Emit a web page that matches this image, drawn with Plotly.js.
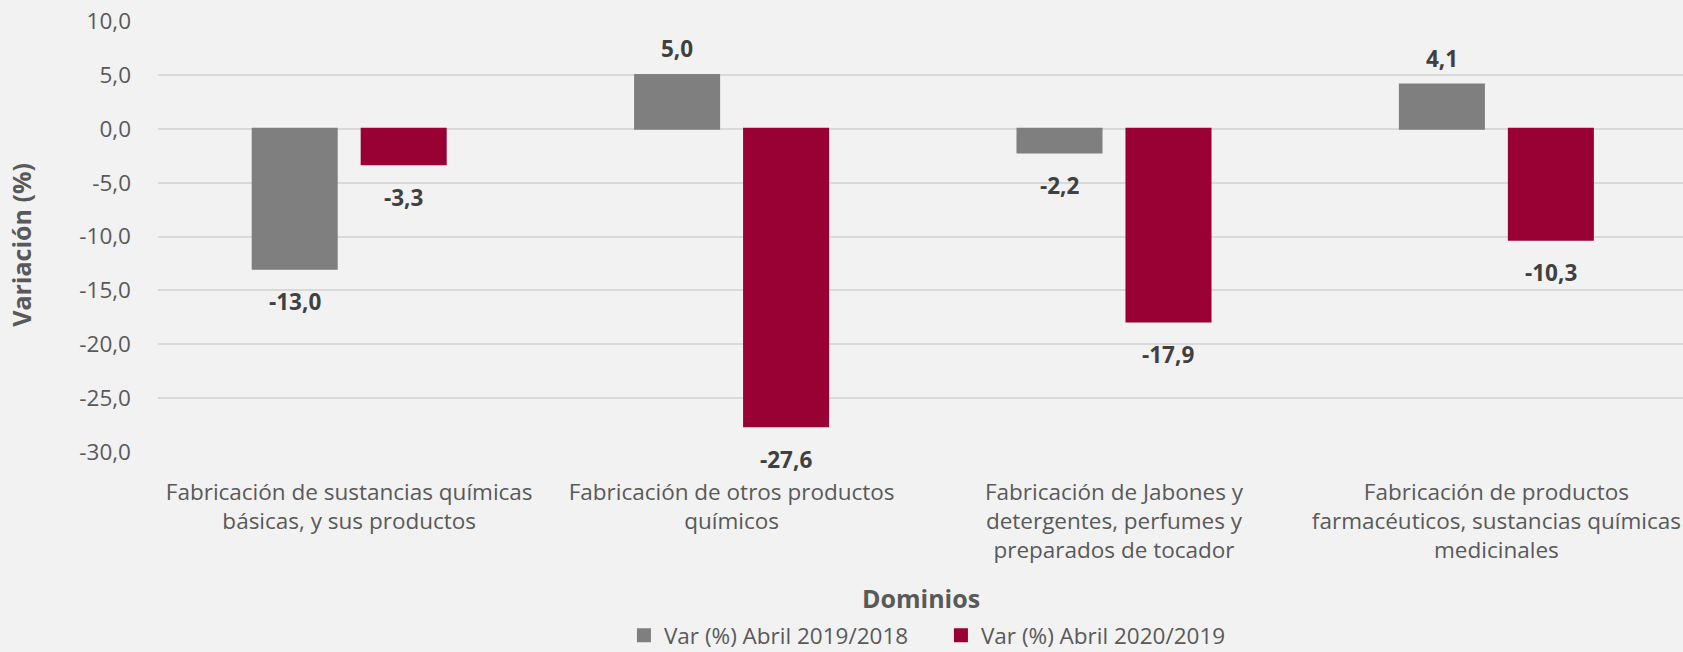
<!DOCTYPE html>
<html>
<head>
<meta charset="utf-8">
<script src="https://cdn.plot.ly/plotly-3.0.1.min.js"></script>
<style>
  html, body { margin: 0; padding: 0; background: #f2f2f2; }
  #chart { width: 1683px; height: 652px; }
</style>
</head>
<body>
<div id="chart"></div>
<script>
// Categories (x axis) and the two series
const categories = [
  "Fabricación de sustancias químicas<br>básicas, y sus productos",
  "Fabricación de otros productos<br>químicos",
  "Fabricación de Jabones y<br>detergentes, perfumes y<br>preparados de tocador",
  "Fabricación de productos<br>farmacéuticos, sustancias químicas<br>medicinales"
];
const seriesNames = ["Var (%) Abril 2019/2018", "Var (%) Abril 2020/2019"];
const var2019 = [-13.0, 5.0, -2.2, 4.1];
const var2020 = [-3.3, -27.6, -17.9, -10.3];

const yTickVals = [10, 5, 0, -5, -10, -15, -20, -25, -30];

const barColors = ["#7f7f7f", "#990033"];
const fontFamily = "'Open Sans', 'DejaVu Sans', sans-serif";

// number with comma as decimal sign, plain hyphen for minus
function fmt(v) {
  return v.toFixed(1).replace(".", ",");
}

const traces = [var2019, var2020].map((vals, i) => ({
  type: "bar",
  name: seriesNames[i],
  x: categories,
  y: vals,
  marker: { color: barColors[i], line: { color: barColors[i], width: 2 } },
  hoverinfo: "skip"
}));

// data labels, placed above positive bars and below negative ones
const offset = 0.1425;
const annotations = [];
[var2019, var2020].forEach((vals, s) => {
  vals.forEach((v, i) => {
    annotations.push({
      x: i + (s === 0 ? -offset : offset),
      y: v,
      xref: "x", yref: "y",
      text: "<b>" + fmt(v) + "</b>",
      showarrow: false,
      yanchor: "middle",
      yshift: v >= 0 ? 26 : -33,
      font: { family: fontFamily, size: 22.5, color: "#404040" }
    });
  });
});

// axis titles
annotations.push({
  xref: "paper", yref: "paper",
  x: -0.09, y: 0.48,
  text: "<b>Variación (%)</b>",
  textangle: -90,
  showarrow: false,
  xanchor: "center", yanchor: "middle",
  font: { family: fontFamily, size: 25, color: "#595959" }
});
annotations.push({
  xref: "paper", yref: "paper",
  x: 0.5, y: -0.3386,
  text: "<b>Dominios</b>",
  showarrow: false,
  xanchor: "center", yanchor: "middle",
  font: { family: fontFamily, size: 25, color: "#595959" }
});

const layout = {
  width: 1683,
  height: 652,
  margin: { l: 158, r: 0, t: 21, b: 200 },
  paper_bgcolor: "#f2f2f2",
  plot_bgcolor: "#f2f2f2",
  separators: ",.",
  font: { family: fontFamily, size: 22.5, color: "#595959" },
  barmode: "group",
  bargap: 0.43,
  bargroupgap: 0.229,
  xaxis: {
    type: "category",
    range: [-0.5, 3.488],
    showgrid: false,
    showline: false,
    zeroline: false,
    ticks: "",
    ticklabelstandoff: 24,
    tickfont: { family: fontFamily, size: 22.5, color: "#595959" },
    automargin: false
  },
  yaxis: {
    range: [-30, 10],
    tickvals: yTickVals,
    ticktext: yTickVals.map(fmt),
    showgrid: true,
    gridcolor: "#d9d9d9",
    gridwidth: 2,
    zeroline: true,
    zerolinecolor: "#d9d9d9",
    zerolinewidth: 2,
    showline: false,
    ticks: "",
    ticklabelstandoff: 26,
    tickfont: { family: fontFamily, size: 22.5, color: "#595959" },
    automargin: false
  },
  showlegend: true,
  legend: {
    orientation: "h",
    xref: "paper",
    x: 0.5134,
    xanchor: "center",
    yref: "container",
    y: 0.0253,
    yanchor: "middle",
    entrywidth: 272,
    bgcolor: "rgba(0,0,0,0)",
    font: { family: fontFamily, size: 22.5, color: "#595959" },
    traceorder: "normal"
  },
  annotations: annotations
};

Plotly.newPlot("chart", traces, layout, { displayModeBar: false, staticPlot: true });
</script>
</body>
</html>
